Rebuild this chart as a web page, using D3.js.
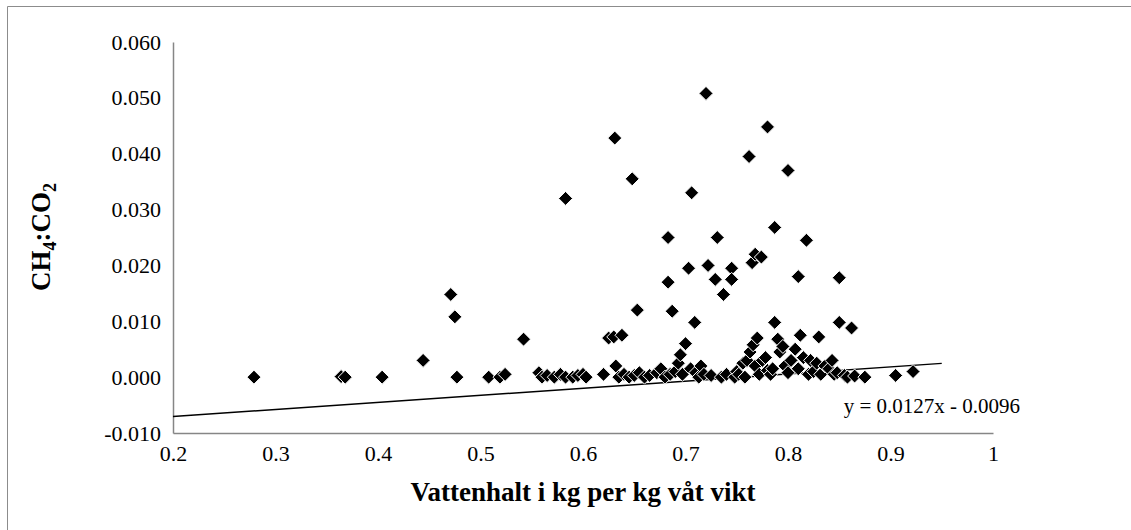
<!DOCTYPE html>
<html>
<head>
<meta charset="utf-8">
<script src="https://cdn.jsdelivr.net/npm/d3@7"></script>
<style>
  html, body { margin: 0; padding: 0; background: #fff; }
  svg { display: block; }
  text { font-family: "Liberation Serif", "Times New Roman", serif; fill: #000; }
</style>
</head>
<body>
<svg id="chart" width="1131" height="530"></svg>
<script>
// Water content (kg per kg wet weight) for each sample
const waterContent = [
  0.279, 0.364, 0.368, 0.404, 0.444, 0.471, 0.475, 0.477, 0.508, 0.519, 0.524, 0.542,
  0.557, 0.560, 0.565, 0.572, 0.578, 0.583, 0.590, 0.595, 0.600, 0.603, 0.583,
  0.620, 0.625, 0.630, 0.632, 0.635, 0.638, 0.640, 0.645, 0.650, 0.655, 0.660, 0.631, 0.648, 0.653,
  0.665, 0.672, 0.676, 0.680, 0.683, 0.683, 0.687, 0.685, 0.690, 0.693, 0.695, 0.700, 0.697,
  0.703, 0.706, 0.709, 0.705, 0.710, 0.713, 0.715, 0.720, 0.722, 0.718, 0.725,
  0.729, 0.731, 0.737, 0.745, 0.745, 0.735, 0.740, 0.748, 0.750, 0.752, 0.756, 0.758, 0.760,
  0.762, 0.765, 0.768, 0.774, 0.763, 0.766, 0.770, 0.768, 0.772, 0.775, 0.778, 0.780, 0.780,
  0.783, 0.785, 0.787, 0.787, 0.790, 0.792, 0.795, 0.797, 0.800, 0.800, 0.803,
  0.807, 0.810, 0.812, 0.810, 0.815, 0.818, 0.820, 0.822, 0.825, 0.828, 0.830, 0.832, 0.836,
  0.840, 0.843, 0.845, 0.848, 0.850, 0.850, 0.855, 0.858, 0.862, 0.865,
  0.875, 0.905, 0.922
];
// CH4:CO2 ratio for each sample (same order)
const ratio = [
  0.0000, 0.0001, 0.0000, 0.0000, 0.0030, 0.0148, 0.0108, 0.0000, 0.0000, 0.0000, 0.0005, 0.0068,
  0.0008, 0.0000, 0.0003, 0.0000, 0.0005, 0.0000, 0.0000, 0.0003, 0.0005, 0.0000, 0.0320,
  0.0005, 0.0070, 0.0072, 0.0020, 0.0000, 0.0075, 0.0005, 0.0000, 0.0003, 0.0008, 0.0000, 0.0428, 0.0355, 0.0120,
  0.0003, 0.0008, 0.0015, 0.0000, 0.0250, 0.0170, 0.0118, 0.0005, 0.0010, 0.0025, 0.0040, 0.0060, 0.0005,
  0.0195, 0.0330, 0.0098, 0.0015, 0.0008, 0.0000, 0.0020, 0.0508, 0.0200, 0.0005, 0.0003,
  0.0175, 0.0250, 0.0148, 0.0195, 0.0175, 0.0000, 0.0005, 0.0000, 0.0010, 0.0005, 0.0025, 0.0000, 0.0030,
  0.0395, 0.0205, 0.0220, 0.0215, 0.0045, 0.0058, 0.0070, 0.0020, 0.0005, 0.0030, 0.0035, 0.0448, 0.0012,
  0.0005, 0.0015, 0.0268, 0.0098, 0.0068, 0.0045, 0.0055, 0.0020, 0.0370, 0.0008, 0.0030,
  0.0050, 0.0180, 0.0075, 0.0015, 0.0035, 0.0245, 0.0005, 0.0030, 0.0010, 0.0025, 0.0072, 0.0005, 0.0020,
  0.0015, 0.0030, 0.0005, 0.0008, 0.0178, 0.0098, 0.0003, 0.0000, 0.0088, 0.0002,
  0.0000, 0.0003, 0.0010
];

// Axis ticks
const xTicks = [0.2, 0.3, 0.4, 0.5, 0.6, 0.7, 0.8, 0.9, 1];
const yTicks = [-0.010, 0.000, 0.010, 0.020, 0.030, 0.040, 0.050, 0.060];

// Linear trend: y = slope * x + intercept
const trendSlope = 0.0127;
const trendIntercept = -0.0096;
const trendRange = [0.2, 0.95];
const trendLabel = "y = 0.0127x - 0.0096";

const svg = d3.select("#chart");

// Outer chart frame (left and top edges)
svg.append("path")
  .attr("d", "M7.5,530 V6.5 H1131")
  .attr("fill", "none")
  .attr("stroke", "#8c8c8c")
  .attr("stroke-width", 1);

const x = d3.scaleLinear().domain([0.2, 1]).range([173, 993]);
const y = d3.scaleLinear().domain([-0.010, 0.060]).range([433, 42]);

const axisColor = "#868686";

// X axis
const xAxis = svg.append("g")
  .attr("transform", `translate(0,${y(-0.010)})`)
  .call(d3.axisBottom(x).tickValues(xTicks).tickSize(0).tickPadding(12)
    .tickFormat(d => d === 1 ? "1" : d3.format(".1f")(d)));
xAxis.select(".domain").attr("stroke", axisColor).attr("stroke-width", 1.5);
xAxis.selectAll("text").attr("font-size", 22).attr("font-family", "Liberation Serif, serif");

// Y axis
const yAxis = svg.append("g")
  .attr("transform", `translate(${x(0.2)},0)`)
  .call(d3.axisLeft(y).tickValues(yTicks).tickSize(0).tickPadding(12)
    .tickFormat(d3.format(".3f")));
yAxis.select(".domain").attr("stroke", axisColor).attr("stroke-width", 1.5);
yAxis.selectAll("text").attr("font-size", 22).attr("font-family", "Liberation Serif, serif")
  .text(d => d < 0 ? "-" + d3.format(".3f")(-d) : d3.format(".3f")(d));

// Trend line
svg.append("line")
  .attr("x1", x(trendRange[0]))
  .attr("y1", y(trendSlope * trendRange[0] + trendIntercept))
  .attr("x2", x(trendRange[1]))
  .attr("y2", y(trendSlope * trendRange[1] + trendIntercept))
  .attr("stroke", "#000")
  .attr("stroke-width", 1.5);

// Diamond markers
const r = 7;
const diamond = `M0,${-r} L${r},0 L0,${r} L${-r},0 Z`;
svg.append("g")
  .selectAll("path")
  .data(waterContent.map((v, i) => [v, ratio[i]]))
  .join("path")
  .attr("d", diamond)
  .attr("transform", d => `translate(${x(d[0])},${y(d[1])})`)
  .attr("fill", "#000")
  .attr("stroke", "#fff")
  .attr("stroke-width", 1);

// Trend equation label
svg.append("text")
  .attr("x", 1020)
  .attr("y", 413)
  .attr("text-anchor", "end")
  .attr("font-size", 21)
  .text(trendLabel);

// Axis titles
svg.append("text")
  .attr("x", 583)
  .attr("y", 501)
  .attr("text-anchor", "middle")
  .attr("font-size", 27)
  .attr("font-weight", "bold")
  .text("Vattenhalt i kg per kg våt vikt");

const yTitle = svg.append("text")
  .attr("transform", `translate(50,237) rotate(-90)`)
  .attr("text-anchor", "middle")
  .attr("font-size", 27)
  .attr("font-weight", "bold");
yTitle.append("tspan").text("CH");
yTitle.append("tspan").attr("font-size", 18).attr("dy", 6).text("4");
yTitle.append("tspan").attr("dy", -6).text(":CO");
yTitle.append("tspan").attr("font-size", 18).attr("dy", 6).text("2");
</script>
</body>
</html>
